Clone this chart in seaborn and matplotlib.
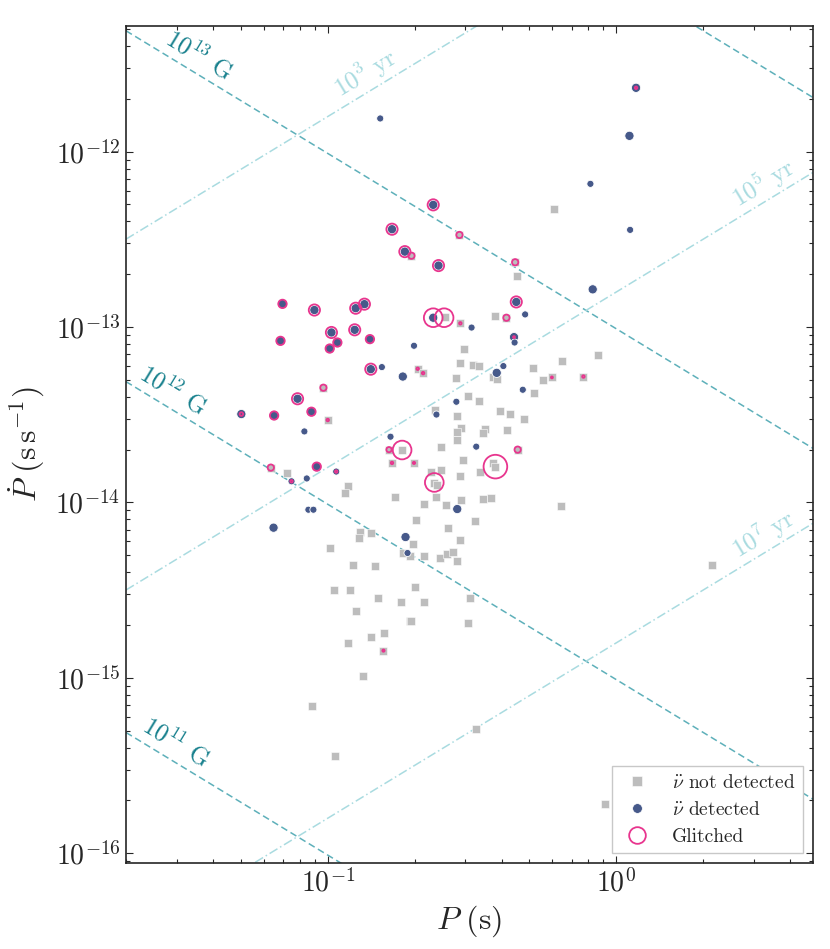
import numpy as np
import pandas as pd
import matplotlib
matplotlib.use("Agg")
import matplotlib.pyplot as plt
from matplotlib.lines import Line2D
from matplotlib.ticker import NullFormatter
import seaborn as sns

# Pulsars where nu-ddot was not detected (P in s, Pdot in s/s)
gray_P = [0.453, 0.254, 0.288, 0.381, 0.416, 0.286, 0.195, 0.446, 0.205, 0.214,
          0.0966, 0.100, 0.163, 0.181, 0.167, 0.199, 0.0635, 0.0723, 0.118, 0.115,
          0.296, 0.288, 0.318, 0.335, 0.279, 0.374, 0.387, 0.513, 0.557, 0.598,
          0.646, 0.517, 0.305, 0.333, 0.236, 0.281, 0.396, 0.427, 0.477, 0.290,
          0.281, 0.351, 0.346, 0.419, 0.280, 0.247, 0.455, 0.294, 0.246, 0.228,
          0.234, 0.240, 0.338, 0.288, 0.374, 0.380, 0.237, 0.216, 0.256, 0.290,
          0.345, 0.367, 0.644, 0.324, 0.203, 0.260, 0.171, 0.129, 0.128, 0.141,
          0.102, 0.122, 0.146, 0.198, 0.182, 0.192, 0.216, 0.244, 0.259, 0.271,
          0.280, 0.287, 0.105, 0.119, 0.149, 0.201, 0.312, 0.180, 0.216, 0.125,
          0.192, 0.195, 0.307, 0.141, 0.157, 0.118, 0.156, 0.133, 0.0882, 0.326,
          0.106, 0.916, 2.15, 0.607, 0.769, 0.864]
gray_Pdot = [1.96e-13, 1.14e-13, 1.05e-13, 1.16e-13, 1.13e-13, 3.35e-13, 2.55e-13, 2.34e-13, 5.78e-14, 5.46e-14,
             4.51e-14, 2.95e-14, 2.0e-14, 1.99e-14, 1.68e-14, 1.68e-14, 1.58e-14, 1.48e-14, 1.245e-14, 1.13e-14,
             7.48e-14, 6.25e-14, 6.07e-14, 5.96e-14, 5.13e-14, 5.18e-14, 5.05e-14, 5.83e-14, 4.96e-14, 5.16e-14,
             6.39e-14, 4.18e-14, 4.04e-14, 3.80e-14, 3.36e-14, 3.12e-14, 3.34e-14, 3.21e-14, 2.99e-14, 2.64e-14,
             2.51e-14, 2.62e-14, 2.49e-14, 2.59e-14, 2.26e-14, 2.07e-14, 2.0e-14, 1.745e-14, 1.535e-14, 1.50e-14,
             1.29e-14, 1.26e-14, 1.50e-14, 1.41e-14, 1.68e-14, 1.60e-14, 1.08e-14, 9.75e-15, 9.67e-15, 1.036e-14,
             1.04e-14, 1.055e-14, 9.49e-15, 7.79e-15, 7.94e-15, 7.18e-15, 1.07e-14, 6.78e-15, 6.29e-15, 6.70e-15,
             5.52e-15, 4.40e-15, 4.36e-15, 5.79e-15, 5.15e-15, 4.97e-15, 4.92e-15, 4.80e-15, 5.08e-15, 5.22e-15,
             4.66e-15, 6.07e-15, 3.18e-15, 3.15e-15, 2.87e-15, 3.28e-15, 2.87e-15, 2.72e-15, 2.71e-15, 2.42e-15,
             2.12e-15, 2.10e-15, 2.05e-15, 1.71e-15, 1.80e-15, 1.59e-15, 1.43e-15, 1.03e-15, 6.89e-16, 5.09e-16,
             3.60e-16, 1.92e-16, 4.42e-15, 4.69e-13, 5.22e-14, 6.91e-14]

# Pulsars with nu-ddot detected; det_big = 1 for the larger dots
det_P = [1.17, 1.11, 0.813, 1.116, 0.828, 0.152, 0.232, 0.167, 0.185, 0.242,
         0.0697, 0.0899, 0.125, 0.134, 0.232, 0.315, 0.450, 0.483, 0.442, 0.444,
         0.103, 0.124, 0.0686, 0.108, 0.1016, 0.140, 0.199, 0.141, 0.154, 0.182,
         0.406, 0.385, 0.474, 0.279, 0.238, 0.0786, 0.0502, 0.0652, 0.0878, 0.0830,
         0.165, 0.327, 0.0916, 0.107, 0.0749, 0.0846, 0.0857, 0.0892, 0.0649, 0.281,
         0.186, 0.189]
det_Pdot = [2.31e-12, 1.23e-12, 6.55e-13, 3.58e-13, 1.64e-13, 1.545e-12, 4.97e-13, 3.61e-13, 2.69e-13, 2.24e-13,
            1.355e-13, 1.25e-13, 1.28e-13, 1.35e-13, 1.13e-13, 9.93e-14, 1.39e-13, 1.18e-13, 8.76e-14, 8.16e-14,
            9.31e-14, 9.64e-14, 8.34e-14, 8.16e-14, 7.54e-14, 8.53e-14, 7.82e-14, 5.75e-14, 5.91e-14, 5.22e-14,
            5.99e-14, 5.48e-14, 4.39e-14, 3.75e-14, 3.17e-14, 3.90e-14, 3.19e-14, 3.13e-14, 3.29e-14, 2.54e-14,
            2.37e-14, 2.08e-14, 1.60e-14, 1.50e-14, 1.32e-14, 1.37e-14, 9.09e-15, 9.09e-15, 7.18e-15, 9.17e-15,
            6.35e-15, 5.15e-15]
det_big = [1, 1, 0, 0, 1, 0, 1, 1, 1, 1,
           1, 1, 1, 1, 1, 0, 1, 0, 1, 0,
           1, 1, 1, 1, 1, 1, 0, 1, 0, 1,
           0, 1, 0, 0, 0, 1, 1, 1, 1, 0,
           0, 0, 1, 0, 0, 0, 0, 0, 1, 1,
           1, 0]

# Glitching pulsars; glitch_amp (ring size) read from the circles
gl_P = [1.17, 0.288, 0.205, 0.214, 0.100, 0.0502, 0.167, 0.199, 0.107, 0.0749,
        0.156, 0.598, 0.769, 0.442,
        0.286, 0.195, 0.446, 0.416, 0.0966, 0.0635, 0.163, 0.455,
        0.0697, 0.0686, 0.108, 0.1016, 0.140, 0.0652, 0.0878, 0.0916,
        0.232, 0.167, 0.185, 0.242, 0.0899, 0.125, 0.134, 0.103, 0.124, 0.141,
        0.0786, 0.450,
        0.232, 0.253, 0.181, 0.234,
        0.381]
gl_Pdot = [2.31e-12, 1.05e-13, 5.78e-14, 5.46e-14, 2.95e-14, 3.19e-14, 1.68e-14, 1.68e-14, 1.50e-14, 1.32e-14,
           1.43e-15, 5.16e-14, 5.22e-14, 8.76e-14,
           3.35e-13, 2.55e-13, 2.34e-13, 1.13e-13, 4.51e-14, 1.58e-14, 2.0e-14, 2.0e-14,
           1.355e-13, 8.34e-14, 8.16e-14, 7.54e-14, 8.53e-14, 3.13e-14, 3.29e-14, 1.60e-14,
           4.97e-13, 3.61e-13, 2.69e-13, 2.24e-13, 1.25e-13, 1.28e-13, 1.35e-13, 9.31e-14, 9.64e-14, 5.75e-14,
           3.90e-14, 1.39e-13,
           1.13e-13, 1.13e-13, 1.99e-14, 1.30e-14,
           1.60e-14]
gl_amp = [0.03, 0.03, 0.03, 0.03, 0.03, 0.08, 0.03, 0.02, 0.03, 0.03,
          0.02, 0.01, 0.03, 0.01,
          0.3, 0.3, 0.3, 0.3, 0.3, 0.3, 0.2, 0.3,
          0.55, 0.55, 0.55, 0.55, 0.55, 0.55, 0.55, 0.55,
          1.0, 1.0, 1.0, 1.0, 1.0, 1.0, 1.0, 1.0, 1.0, 1.0,
          1.0, 1.0,
          2.8, 2.8, 2.8, 2.8,
          4.5]

# constant magnetic field and characteristic age lines
B_values = [1e11, 1e12, 1e13, 1e14]
B_label_P = {1e11: 0.0297, 1e12: 0.0292, 1e13: 0.0358}
age_values = [1e3, 1e5, 1e7]
age_label_P = {1e3: 0.1356, 1e5: 3.23, 1e7: 3.23}

GRAY = "#bdbdbd"
BLUE = "#46598a"
PINK = "#e8358e"
B_LINE = "#5eb0ba"
B_TEXT = "#17808d"
AGE = "#a9dbe0"

sns.set_style("ticks")
plt.rcParams["font.family"] = "serif"
plt.rcParams["font.serif"] = ["cmr10"]
plt.rcParams["mathtext.fontset"] = "cm"
plt.rcParams["axes.formatter.use_mathtext"] = True
plt.rcParams["axes.unicode_minus"] = False

gray_df = pd.DataFrame({"P": gray_P, "Pdot": gray_Pdot})
det_df = pd.DataFrame({"P": det_P, "Pdot": det_Pdot, "big": det_big})
gl_df = pd.DataFrame({"P": gl_P, "Pdot": gl_Pdot, "amp": gl_amp})

fig = plt.figure(figsize=(8.3, 9.49), dpi=100)
ax = fig.add_axes([0.1518, 0.0906, 0.8277, 0.882])
ax.set_xscale("log")
ax.set_yscale("log")
xlim = (0.02, 4.8)
ylim = (8.8e-17, 5.2e-12)
ax.set_xlim(xlim)
ax.set_ylim(ylim)

# B = 3.2e19 sqrt(P Pdot) G  and  tau = P / (2 Pdot)
yr = 3.156e7
def pdot_B(B, P):
    return (B / 3.2e19) ** 2 / np.asarray(P)

def pdot_age(tau, P):
    return np.asarray(P) / (2 * tau * yr)

Pline = np.array(xlim)
for B in B_values:
    ax.plot(Pline, pdot_B(B, Pline), ls=(0, (4.5, 2.5)), color=B_LINE, lw=1.1, zorder=1)
for tau in age_values:
    ax.plot(Pline, pdot_age(tau, Pline), ls=(0, (6, 2, 1, 2)), color=AGE, lw=1.1, zorder=1)

sns.scatterplot(data=gray_df, x="P", y="Pdot", marker="s", s=31, color=GRAY,
                edgecolor="white", linewidth=0.4, ax=ax, zorder=3)
sns.scatterplot(data=det_df, x="P", y="Pdot", size="big", sizes={0: 26, 1: 44},
                color=BLUE, edgecolor="white", linewidth=0.6, legend=False, ax=ax, zorder=4)
sns.scatterplot(data=gl_df, x="P", y="Pdot", size="amp", sizes=(2, 290), size_norm=(0.01, 4.5),
                facecolor="none", edgecolor=PINK, linewidth=1.3, legend=False, ax=ax, zorder=5)

# angle of the lines on screen
p0 = ax.transData.transform((0.1, 1e-13))
p1 = ax.transData.transform((1.0, 1e-14))
ang = np.degrees(np.arctan2(p1[1] - p0[1], p1[0] - p0[0]))

for B, P in B_label_P.items():
    ax.text(P, pdot_B(B, P) * 1.30, r"$10^{%d}$ G" % round(np.log10(B)), color=B_TEXT,
            fontsize=18, rotation=ang, ha="center", va="center", rotation_mode="anchor", zorder=2)
for tau, P in age_label_P.items():
    ax.text(P, pdot_age(tau, P) * 1.30, r"$10^{%d}$ yr" % round(np.log10(tau)), color=AGE,
            fontsize=18, rotation=-ang, ha="center", va="center", rotation_mode="anchor", zorder=2)

ax.set_xlabel(r"$P\ (\mathrm{s})$", fontsize=23, labelpad=4)
ax.set_ylabel(r"$\dot{P}\ (\mathrm{s\,s^{-1}})$", fontsize=23, labelpad=6)
ax.tick_params(which="both", direction="in", top=True, right=True, labelsize=20, width=0.8, pad=4)
ax.tick_params(which="major", length=5)
ax.tick_params(which="minor", length=3)
ax.xaxis.set_minor_formatter(NullFormatter())
ax.yaxis.set_minor_formatter(NullFormatter())
for sp in ax.spines.values():
    sp.set_linewidth(1.2)

handles = [
    Line2D([], [], ls="none", marker="s", ms=6.5, color=GRAY, mec="white", mew=0.4),
    Line2D([], [], ls="none", marker="o", ms=7, color=BLUE, mec="white", mew=0.5),
    Line2D([], [], ls="none", marker="o", ms=12, mfc="none", mec=PINK, mew=1.3),
]
labels = [r"$\ddot{\nu}$ not detected", r"$\ddot{\nu}$ detected", "Glitched"]
leg = ax.legend(handles, labels, loc="lower right", fontsize=14, frameon=True, fancybox=False,
                framealpha=1, edgecolor="#c8c8c8", labelspacing=0.45, borderaxespad=0.5,
                handlelength=1.8, handletextpad=0.9)
leg.get_frame().set_linewidth(1.0)

fig.savefig("out.png", dpi=100)
